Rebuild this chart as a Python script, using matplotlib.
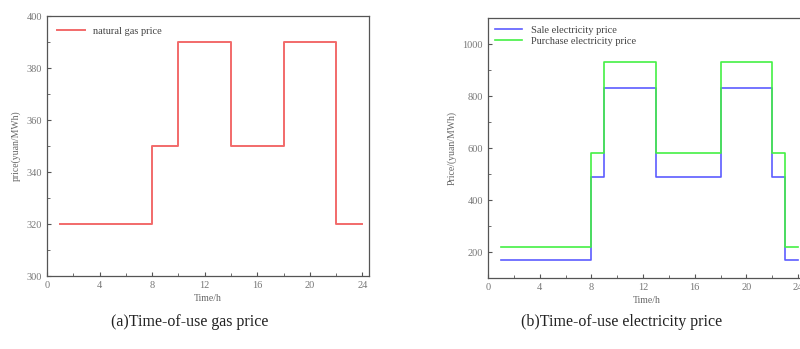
import numpy as np
import matplotlib.pyplot as plt
from matplotlib.ticker import MultipleLocator

# hourly price breakpoints (step lines, value holds until next breakpoint)
gas_hours = [1, 8, 10, 14, 18, 22, 24]
gas_price = [320, 350, 390, 350, 390, 320, 320]

elec_hours = [1, 8, 9, 13, 18, 22, 23, 24]
sale_price = [170, 490, 830, 490, 830, 490, 170, 170]
purchase_price = [220, 580, 930, 580, 930, 580, 220, 220]

plt.rcParams['font.family'] = ['Liberation Serif', 'DejaVu Serif']

fig = plt.figure(figsize=(8, 3.49), dpi=100)

grey = '#555555'


def style_axes(ax):
    ax.tick_params(which='both', direction='in', top=False, right=False,
                   colors=grey, labelsize=7.5, labelcolor='#777777')
    ax.tick_params(which='major', length=3)
    ax.tick_params(which='minor', length=2)
    for s in ax.spines.values():
        s.set_color(grey)
        s.set_linewidth(0.9)


# (a) gas price
ax1 = fig.add_axes([47/800, 1-276/349, 322/800, 260/349])
ax1.step(gas_hours, gas_price, where='post', color='#f26a6a', lw=1.4,
         label='natural gas price')
ax1.set_xlim(0, 24.5)
ax1.set_ylim(300, 400)
ax1.xaxis.set_major_locator(MultipleLocator(4))
ax1.xaxis.set_minor_locator(MultipleLocator(2))
ax1.yaxis.set_major_locator(MultipleLocator(20))
ax1.yaxis.set_minor_locator(MultipleLocator(10))
ax1.set_xlabel('Time/h', fontsize=7, color='#666666', labelpad=3)
ax1.set_ylabel('price(yuan/MWh)', fontsize=7, color='#666666', labelpad=4)
ax1.legend(loc='upper left', frameon=False, fontsize=7.5, handlelength=2.6,
           borderaxespad=0.6, labelcolor='#444444')
style_axes(ax1)

# (b) electricity price, axes runs past the right edge
ax2 = fig.add_axes([488/800, 1-278/349, 24.5*12.92/800, 260/349])
ax2.step(elec_hours, sale_price, where='post', color='#5c5cff', lw=1.2,
         label='Sale electricity price')
ax2.step(elec_hours, purchase_price, where='post', color='#44f044', lw=1.2,
         label='Purchase electricity price')
ax2.set_xlim(0, 24.5)
ax2.set_ylim(100, 1100)
ax2.xaxis.set_major_locator(MultipleLocator(4))
ax2.xaxis.set_minor_locator(MultipleLocator(2))
ax2.yaxis.set_major_locator(MultipleLocator(200))
ax2.yaxis.set_minor_locator(MultipleLocator(100))
ax2.set_xlabel('Time/h', fontsize=7, color='#666666', labelpad=3)
ax2.set_ylabel('Price/(yuan/MWh)', fontsize=7, color='#666666', labelpad=4)
ax2.legend(loc='upper left', frameon=False, fontsize=7.5, handlelength=2.6,
           borderaxespad=0.3, labelspacing=0.2, labelcolor='#444444')
style_axes(ax2)

fig.text(190/800, 1-322/349, '(a)Time-of-use gas price', ha='center',
         va='center', fontsize=11.5, color='#222222')
fig.text(622/800, 1-322/349, '(b)Time-of-use electricity price', ha='center',
         va='center', fontsize=11.5, color='#222222')

fig.savefig('out.png', dpi=100)
